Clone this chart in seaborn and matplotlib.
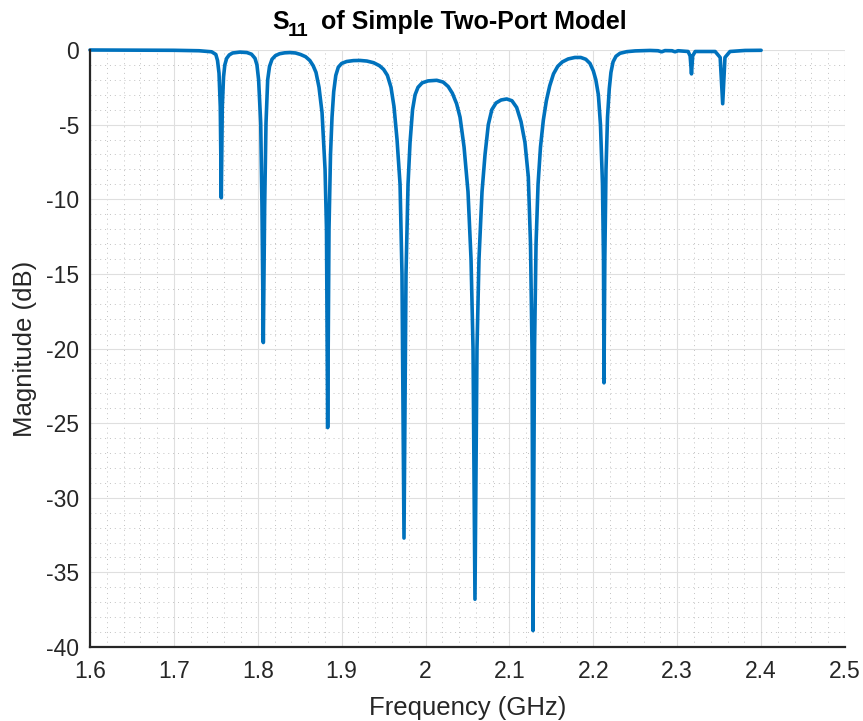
import matplotlib
matplotlib.use("Agg")
import matplotlib.pyplot as plt
import matplotlib.transforms as mtransforms
import seaborn as sns
import numpy as np
import pandas as pd
from matplotlib.ticker import MultipleLocator

# ---- data ----
freq_ghz = [
    1.600, 1.700, 1.730, 1.745, 1.750, 1.752, 1.7538, 1.7553, 1.7565, 1.7577,
    1.7592, 1.7607, 1.7629, 1.7660, 1.7700, 1.7788, 1.7870, 1.7925, 1.7967, 1.7990,
    1.8010, 1.8035, 1.8050, 1.8066, 1.8082, 1.8098, 1.8118, 1.8140, 1.8170, 1.8210,
    1.8260, 1.8320, 1.8384, 1.8450, 1.8510, 1.8570, 1.8620, 1.8660, 1.8694, 1.8730,
    1.8766, 1.8802, 1.8819, 1.8833, 1.8849, 1.8867, 1.8885, 1.8905, 1.8930, 1.8960,
    1.9000, 1.9060, 1.9140, 1.9219, 1.9300, 1.9380, 1.9450, 1.9500, 1.9545, 1.9588,
    1.9624, 1.9660, 1.9696, 1.9719, 1.9743, 1.9767, 1.9791, 1.9815, 1.9845, 1.9875,
    1.9910, 1.9960, 2.0030, 2.0133, 2.0210, 2.0270, 2.0320, 2.0370, 2.0411, 2.0459,
    2.0506, 2.0542, 2.0566, 2.0589, 2.0613, 2.0637, 2.0673, 2.0709, 2.0748, 2.0790,
    2.0840, 2.0900, 2.0967, 2.1030, 2.1086, 2.1138, 2.1185, 2.1225, 2.1251, 2.1269,
    2.1281, 2.1299, 2.1317, 2.1341, 2.1370, 2.1404, 2.1440, 2.1480, 2.1525, 2.1575,
    2.1630, 2.1700, 2.1780, 2.1850, 2.1910, 2.1960, 2.2000, 2.2030, 2.2060, 2.2085,
    2.2109, 2.2121, 2.2127, 2.2137, 2.2151, 2.2169, 2.2190, 2.2210, 2.2235, 2.2270,
    2.2318, 2.2400, 2.2500, 2.2675, 2.2771, 2.2815, 2.2854, 2.2938, 2.2974, 2.3010,
    2.3130, 2.3154, 2.3170, 2.3184, 2.3214, 2.3452, 2.3512, 2.3542, 2.3569, 2.3629,
    2.3808, 2.4000,
]
magnitude_db = [
    0.0, -0.02, -0.05, -0.12, -0.3, -0.7, -1.56, -3.8, -9.9, -3.8,
    -1.8, -1.0, -0.56, -0.33, -0.2, -0.14, -0.17, -0.28, -0.56, -1.0,
    -2.0, -4.9, -10.5, -19.6, -10.5, -4.9, -2.0, -1.1, -0.62, -0.38,
    -0.25, -0.19, -0.17, -0.2, -0.3, -0.45, -0.7, -1.05, -1.5, -2.5,
    -4.2, -8.0, -12.0, -25.3, -12.0, -7.0, -4.5, -2.8, -1.7, -1.15,
    -0.9, -0.77, -0.71, -0.70, -0.74, -0.85, -1.05, -1.3, -1.7, -2.5,
    -3.8, -6.0, -9.0, -15.0, -32.7, -15.0, -9.0, -6.2, -4.0, -3.0,
    -2.5, -2.2, -2.07, -2.03, -2.15, -2.45, -2.9, -3.6, -4.5, -6.5,
    -9.5, -14.0, -20.0, -36.8, -20.0, -14.0, -9.5, -7.0, -5.0, -4.0,
    -3.55, -3.35, -3.28, -3.4, -3.85, -4.8, -6.2, -8.5, -13.0, -20.0,
    -38.9, -20.0, -13.0, -9.0, -6.5, -4.7, -3.4, -2.4, -1.6, -1.1,
    -0.8, -0.6, -0.5, -0.5, -0.62, -0.9, -1.4, -2.0, -3.0, -5.0,
    -9.0, -14.0, -22.3, -14.0, -8.0, -4.5, -2.6, -1.5, -0.8, -0.42,
    -0.22, -0.11, -0.06, -0.03, -0.05, -0.12, -0.04, -0.05, -0.12, -0.05,
    -0.1, -0.4, -1.6, -0.4, -0.1, -0.1, -0.5, -3.6, -0.5, -0.1,
    -0.03, -0.02,
]
x_ticks = [1.6, 1.7, 1.8, 1.9, 2.0, 2.1, 2.2, 2.3, 2.4, 2.5]
x_tick_labels = ["1.6", "1.7", "1.8", "1.9", "2", "2.1", "2.2", "2.3", "2.4", "2.5"]
y_ticks = [-40, -35, -30, -25, -20, -15, -10, -5, 0]
y_tick_labels = ["-40", "-35", "-30", "-25", "-20", "-15", "-10", "-5", "0"]
title_main = "S"
title_sub = "11"
title_rest = "of Simple Two-Port Model"

assert len(freq_ghz) == len(magnitude_db)
df = pd.DataFrame({"Frequency": freq_ghz, "Magnitude": magnitude_db})

sns.set_theme(style="white")
plt.rcParams["font.family"] = ["Liberation Sans", "DejaVu Sans"]

fig = plt.figure(figsize=(8.63, 7.21), dpi=100)
ax = fig.add_axes([90 / 863, 74 / 721, 755 / 863, 597 / 721])

line_color = "#0072BD"
sns.lineplot(data=df, x="Frequency", y="Magnitude", ax=ax, color=line_color,
             linewidth=2.6, errorbar=None, estimator=None, sort=False)
for ln in ax.get_lines():
    ln.set_solid_joinstyle("round")
    ln.set_solid_capstyle("round")
    ln.set_clip_on(False)
    ln.set_zorder(5)

ax.set_xlim(1.6, 2.5)
ax.set_ylim(-40, 0)
ax.set_xticks(x_ticks)
ax.set_xticklabels(x_tick_labels)
ax.set_yticks(y_ticks)
ax.set_yticklabels(y_tick_labels)
ax.xaxis.set_minor_locator(MultipleLocator(0.02))
ax.yaxis.set_minor_locator(MultipleLocator(1))

ax.grid(which="major", color="#dfdfdf", linewidth=0.8, linestyle="-")
ax.grid(which="minor", color="#c2c2c2", linewidth=0.7, linestyle=(0, (1, 4)))
ax.set_axisbelow(True)

dark = "#262626"
for side in ["top", "right"]:
    ax.spines[side].set_visible(False)
for side in ["left", "bottom"]:
    ax.spines[side].set_color(dark)
    ax.spines[side].set_linewidth(1.6)
    ax.spines[side].set_zorder(6)

ax.tick_params(which="major", direction="in", length=6, width=1.6, color=dark,
               labelcolor=dark, labelsize=16.5, top=False, right=False)
ax.tick_params(axis="x", which="major", pad=9)
ax.tick_params(axis="y", which="major", pad=8)
ax.tick_params(which="minor", length=0)

ax.set_xlabel("Frequency (GHz)", fontsize=18.5, color=dark, labelpad=10)
ax.set_ylabel("Magnitude (dB)", fontsize=18.5, color=dark, labelpad=6)

# title built from pieces to mimic the large, low subscript
px = mtransforms.IdentityTransform()
fig.text(272, 721 - 29, title_main, transform=px, fontsize=18, fontweight="bold",
         color="black", ha="left", va="baseline")
fig.text(288, 721 - 36, title_sub, transform=px, fontsize=14, fontweight="bold",
         color="black", ha="left", va="baseline")
fig.text(321, 721 - 29, title_rest, transform=px, fontsize=18, fontweight="bold",
         color="black", ha="left", va="baseline")

fig.savefig("out.png", dpi=100, facecolor="white")
